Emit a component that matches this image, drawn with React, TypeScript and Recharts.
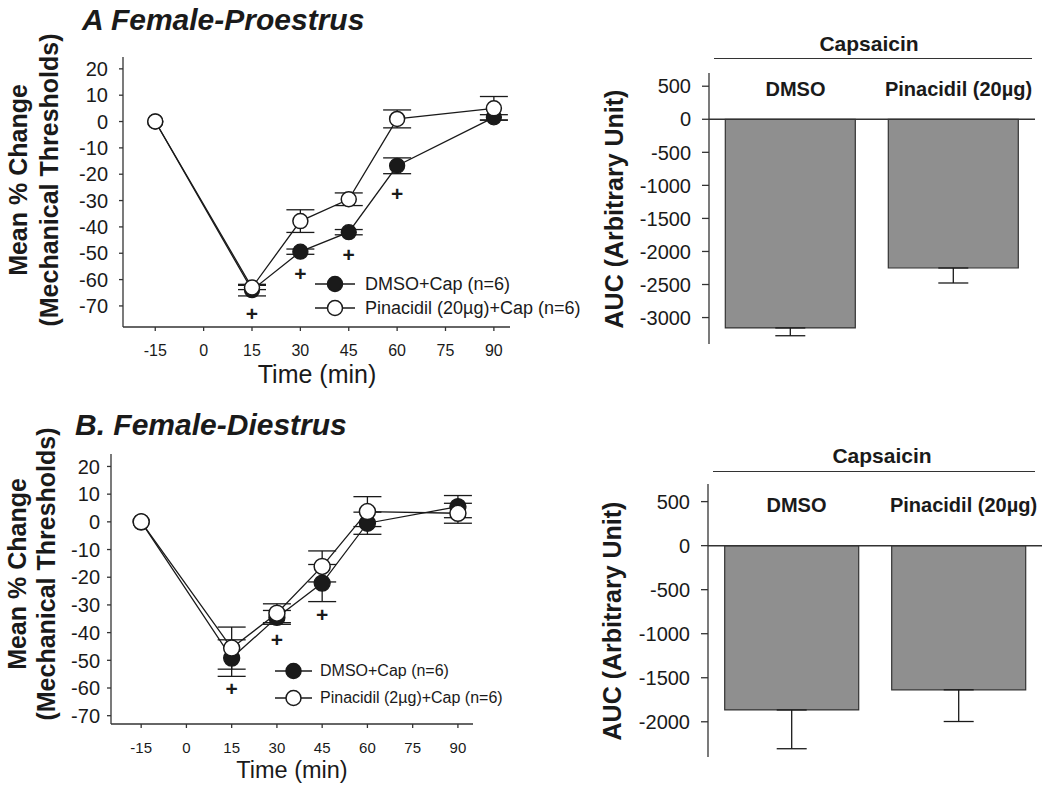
import React from "react";
import {
  ComposedChart,
  BarChart,
  Bar,
  Line,
  Scatter,
  XAxis,
  YAxis,
  ErrorBar,
  ReferenceLine,
} from "recharts";

const FONT = "Arial, Helvetica, sans-serif";
const INK = "#1a1a1a";
const AXIS = "#333333";
const BAR_FILL = "#8f8f8f";

// svg text style; stretch keeps the regular face from falling back to a narrow one
const svgText = (size: number, bold = false): React.CSSProperties => ({
  fontFamily: FONT,
  fontSize: size,
  fontWeight: bold ? "bold" : "normal",
  fontStretch: "expanded",
});

// time course (min)
const timePoints = [-15, 15, 30, 45, 60, 90];
const timeTicks = [-15, 0, 15, 30, 45, 60, 75, 90];
const pctTicks = [20, 10, 0, -10, -20, -30, -40, -50, -60, -70];

// A. proestrus
const proDmso = [0, -64, -49.4, -42, -16.8, 1.6];
const proDmsoErr = [0, 2.2, 1, 1, 3, 1];
const proPina = [0, -63, -37.8, -29.5, 1, 5];
const proPinaErr = [0, 0.8, 4.3, 2.4, 3.4, 4.5];
const proSigTimes = [15, 30, 45, 60];
const proSigY = [-72.7, -57.8, -50.4, -27.2];
const proNames = ["DMSO+Cap (n=6)", "Pinacidil (20\u00b5g)+Cap (n=6)"];

// B. diestrus
const diDmso = [0, -49.2, -34.5, -22.1, -0.5, 5.5];
const diDmsoErr = [0, 6.6, 2.5, 6.7, 4, 4];
const diPina = [0, -45.6, -33, -16.1, 3.7, 3.1];
const diPinaErr = [0, 7.6, 3.4, 5.6, 5.4, 3.6];
const diSigTimes = [15, 30, 45];
const diSigY = [-60, -42.4, -33.6];
const diNames = ["DMSO+Cap (n=6)", "Pinacidil (2\u00b5g)+Cap (n=6)"];

// AUC
const aucGroups = ["DMSO", "Pinacidil (20\u00b5g)"];
const aucTicksPro = [500, 0, -500, -1000, -1500, -2000, -2500, -3000];
const aucTicksDi = [500, 0, -500, -1000, -1500, -2000];
const aucPro = [-3157, -2250];
const aucProErr = [118, 227];
const aucDi = [-1866, -1637];
const aucDiErr = [440, 360];

const toRows = (vals: number[], errs: number[]) =>
  timePoints.map((t, i) => ({ t, v: vals[i], e: errs[i] }));

const PlusMark = (props: any) => {
  const { cx, cy } = props;
  if (cx == null || cy == null) return null;
  return (
    <text
      x={cx}
      y={cy}
      textAnchor="middle"
      dominantBaseline="central"
      style={svgText(21, true)}
      fill={INK}
    >
      +
    </text>
  );
};

const NumTick = (props: any) => {
  const { x, y, payload, side, size } = props;
  const isY = side === "y";
  return (
    <text
      x={x}
      y={y}
      textAnchor={isY ? "end" : "middle"}
      dy={isY ? "0.36em" : "0.71em"}
      style={svgText(size)}
      fill={INK}
    >
      {payload.value}
    </text>
  );
};

function TimeCourse(props: any) {
  const {
    width,
    height,
    margin,
    yDomain,
    dmso,
    dmsoErr,
    pina,
    pinaErr,
    sigTimes,
    sigY,
    r,
    xFont,
    yTickMargin,
  } = props;
  const dmsoRows = toRows(dmso, dmsoErr);
  const pinaRows = toRows(pina, pinaErr);
  const sigRows = sigTimes.map((t: number, i: number) => ({ t, y: sigY[i] }));

  return (
    <ComposedChart width={width} height={height} margin={margin}>
      <XAxis
        type="number"
        dataKey="t"
        domain={[-25, 95]}
        ticks={timeTicks}
        interval={0}
        allowDataOverflow
        height={30}
        stroke={AXIS}
        strokeWidth={1.3}
        tickSize={4}
        tickMargin={14}
        tick={(p: any) => <NumTick {...p} side="x" size={xFont} />}
      />
      <YAxis
        type="number"
        domain={yDomain}
        ticks={pctTicks}
        interval={0}
        allowDataOverflow
        width={60}
        stroke={AXIS}
        strokeWidth={1.3}
        tickSize={4}
        tickMargin={yTickMargin}
        tick={(p: any) => <NumTick {...p} side="y" size={20} />}
      />
      <Line
        data={dmsoRows}
        dataKey="v"
        stroke={INK}
        strokeWidth={1.3}
        dot={{ r, fill: INK, stroke: INK, strokeWidth: 1.3 }}
        activeDot={false}
        isAnimationActive={false}
      >
        <ErrorBar dataKey="e" direction="y" width={14} stroke={INK} strokeWidth={1.3} />
      </Line>
      <Line
        data={pinaRows}
        dataKey="v"
        stroke={INK}
        strokeWidth={1.3}
        dot={{ r, fill: "#ffffff", stroke: INK, strokeWidth: 1.5 }}
        activeDot={false}
        isAnimationActive={false}
      >
        <ErrorBar dataKey="e" direction="y" width={14} stroke={INK} strokeWidth={1.3} />
      </Line>
      <Scatter
        data={sigRows}
        dataKey="y"
        shape={PlusMark}
        legendType="none"
        isAnimationActive={false}
      />
    </ComposedChart>
  );
}

const CategoryTick = (props: any) => {
  const { x, y, payload, offsetY } = props;
  return (
    <text
      x={x + 5}
      y={y + offsetY}
      textAnchor="middle"
      style={svgText(20, true)}
      fill={INK}
    >
      {payload.value}
    </text>
  );
};

function AucBars(props: any) {
  const { width, height, margin, domain, ticks, values, errs, labelDy } = props;
  const rows = aucGroups.map((name, i) => ({ name, v: values[i], e: [errs[i], 0] }));
  return (
    <BarChart width={width} height={height} data={rows} margin={margin} barCategoryGap="10%">
      <XAxis
        dataKey="name"
        orientation="top"
        height={1}
        axisLine={false}
        tickLine={false}
        tickSize={0}
        tickMargin={0}
        interval={0}
        tick={(p: any) => <CategoryTick {...p} offsetY={labelDy} />}
      />
      <YAxis
        type="number"
        domain={domain}
        ticks={ticks}
        interval={0}
        allowDataOverflow
        width={80}
        stroke={AXIS}
        strokeWidth={1.3}
        tickSize={7}
        tickMargin={11}
        tick={(p: any) => <NumTick {...p} side="y" size={20} />}
      />
      <ReferenceLine y={0} stroke={AXIS} strokeWidth={1.5} />
      <Bar dataKey="v" fill={BAR_FILL} stroke={AXIS} strokeWidth={1.2} isAnimationActive={false}>
        <ErrorBar dataKey="e" direction="y" width={15} stroke={INK} strokeWidth={1.3} />
      </Bar>
    </BarChart>
  );
}

// legend drawn in html so the regular face is the same as the axis titles
function SeriesKey(props: any) {
  const { left, top, names, rowY, x0, x1, r, textX, fontSize } = props;
  return (
    <div style={{ position: "absolute", left, top, width: 280, height: 60 }}>
      <svg width={textX} height={60} style={{ position: "absolute", left: 0, top: 0 }}>
        {names.map((name: string, i: number) => (
          <g key={name}>
            <line x1={x0} x2={x1} y1={rowY[i]} y2={rowY[i]} stroke={INK} strokeWidth={1.3} />
            <circle
              cx={(x0 + x1) / 2}
              cy={rowY[i]}
              r={r}
              fill={i === 0 ? INK : "#ffffff"}
              stroke={INK}
              strokeWidth={1.5}
            />
          </g>
        ))}
      </svg>
      {names.map((name: string, i: number) => (
        <div
          key={name}
          style={{
            position: "absolute",
            left: textX,
            top: rowY[i] - fontSize / 2,
            fontSize,
            lineHeight: `${fontSize}px`,
            whiteSpace: "nowrap",
            color: INK,
          }}
        >
          {name}
        </div>
      ))}
    </div>
  );
}

const abs = (left: number, top: number): React.CSSProperties => ({
  position: "absolute",
  left,
  top,
});

function RotatedLabel(props: any) {
  const { cx, cy, lines, fontSize, lineGap } = props;
  const w = 340;
  const h = lineGap * lines.length;
  return (
    <div
      style={{
        position: "absolute",
        left: cx - w / 2,
        top: cy - h / 2,
        width: w,
        height: h,
        transform: "rotate(-90deg)",
        textAlign: "center",
        fontSize,
        lineHeight: `${lineGap}px`,
        fontWeight: "bold",
        color: INK,
        whiteSpace: "nowrap",
      }}
    >
      {lines.map((l: string) => (
        <div key={l}>{l}</div>
      ))}
    </div>
  );
}

export default function App() {
  return (
    <div
      style={{
        position: "absolute",
        left: 0,
        top: 0,
        width: 1050,
        height: 790,
        background: "#ffffff",
        fontFamily: FONT,
        color: INK,
        overflow: "hidden",
      }}
    >
      {/* Panel A */}
      <div style={{ ...abs(82, 5), fontSize: 30, lineHeight: "30px", fontWeight: "bold", fontStyle: "italic" }}>
        A Female-Proestrus
      </div>
      <div style={abs(0, 0)}>
        <TimeCourse
          width={520}
          height={390}
          margin={{ top: 57, right: 10, bottom: 33, left: 63 }}
          yDomain={[-78, 24.5]}
          dmso={proDmso}
          dmsoErr={proDmsoErr}
          pina={proPina}
          pinaErr={proPinaErr}
          sigTimes={proSigTimes}
          sigY={proSigY}
          r={7.5}
          xFont={16}
          yTickMargin={11}
        />
      </div>
      <SeriesKey left={300} top={265} names={proNames} rowY={[19, 43]} x0={15} x1={55} r={7.5} textX={65} fontSize={18} />
      <RotatedLabel cx={34} cy={180} lines={["Mean % Change", "(Mechanical Thresholds)"]} fontSize={25} lineGap={31} />
      <div style={{ ...abs(217, 362), width: 200, textAlign: "center", fontSize: 25, lineHeight: "25px" }}>Time (min)</div>

      <div style={abs(520, 0)}>
        <AucBars
          width={530}
          height={390}
          margin={{ top: 72, right: 15, bottom: 46, left: 109 }}
          domain={[-3400, 700]}
          ticks={aucTicksPro}
          values={aucPro}
          errs={aucProErr}
          labelDy={23}
        />
      </div>
      <div style={{ ...abs(769, 33), width: 200, textAlign: "center", fontSize: 21, lineHeight: "21px", fontWeight: "bold" }}>Capsaicin</div>
      <div style={{ ...abs(714, 58), width: 318, height: 0, borderTop: `1.5px solid ${AXIS}` }} />
      <RotatedLabel cx={614} cy={209} lines={["AUC (Arbitrary Unit)"]} fontSize={25} lineGap={30} />

      {/* Panel B */}
      <div style={{ ...abs(75, 410), fontSize: 30, lineHeight: "30px", fontWeight: "bold", fontStyle: "italic" }}>
        B. Female-Diestrus
      </div>
      <div style={abs(0, 395)}>
        <TimeCourse
          width={560}
          height={395}
          margin={{ top: 59, right: 87, bottom: 36, left: 51 }}
          yDomain={[-73, 24.5]}
          dmso={diDmso}
          dmsoErr={diDmsoErr}
          pina={diPina}
          pinaErr={diPinaErr}
          sigTimes={diSigTimes}
          sigY={diSigY}
          r={8}
          xFont={15}
          yTickMargin={7}
        />
      </div>
      <SeriesKey left={265} top={650} names={diNames} rowY={[21, 48]} x0={10} x1={47} r={7.5} textX={55} fontSize={16} />
      <RotatedLabel cx={32} cy={574} lines={["Mean % Change", "(Mechanical Thresholds)"]} fontSize={25} lineGap={29} />
      <div style={{ ...abs(192, 758), width: 200, textAlign: "center", fontSize: 23.5, lineHeight: "24px" }}>Time (min)</div>

      <div style={abs(560, 395)}>
        <AucBars
          width={490}
          height={395}
          margin={{ top: 88, right: 8, bottom: 33, left: 68 }}
          domain={[-2400, 700]}
          ticks={aucTicksDi}
          values={aucDi}
          errs={aucDiErr}
          labelDy={28}
        />
      </div>
      <div style={{ ...abs(782, 445), width: 200, textAlign: "center", fontSize: 21, lineHeight: "21px", fontWeight: "bold" }}>Capsaicin</div>
      <div style={{ ...abs(713, 471), width: 322, height: 0, borderTop: `1.5px solid ${AXIS}` }} />
      <RotatedLabel cx={612} cy={621} lines={["AUC (Arbitrary Unit)"]} fontSize={25} lineGap={30} />
    </div>
  );
}
